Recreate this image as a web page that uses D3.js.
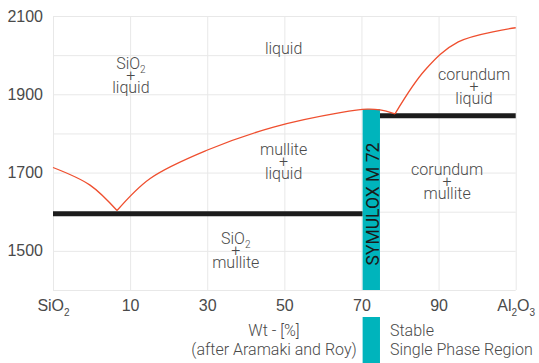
<!DOCTYPE html>
<html>
<head>
<meta charset="utf-8">
<script src="https://cdn.jsdelivr.net/npm/d3@7"></script>
<style>
  body { margin: 0; background: #fff; }
  svg { font-family: Roboto, "Noto Sans", sans-serif; font-weight: 300; }
</style>
</head>
<body>
<div id="chart"></div>
<script>
// composition axis: SiO2 at -10, Al2O3 at 110 (wt% Al2O3 in between)
const xTicks = [-10, 10, 30, 50, 70, 90, 110];
const xTickLabels = ['SiO_2', '10', '30', '50', '70', '90', 'Al_2O_3'];
const yGrid = [1400, 1500, 1600, 1700, 1800, 1900, 2000, 2100];
const yTickLabels = [1500, 1700, 1900, 2100];

// liquidus [wt%, °C]
const liquidusSiO2 = [[-10, 1713], [-0.4, 1668], [6.6, 1603]];
const liquidusMullite = [[6.6, 1603], [15.2, 1685], [29.9, 1757], [47.2, 1816],
  [64.5, 1853], [71.5, 1862], [74.8, 1860], [78.7, 1850]];
const liquidusCorundum = [[78.7, 1850], [86.5, 1962], [95.1, 2034], [110, 2070]];

// solidus lines (eutectic / peritectic)
const solidus = [
  { from: -10, to: 70.3, temp: 1595 },
  { from: 74.8, to: 110, temp: 1845 },
];

// SYMULOX M 72 band
const bandName = 'SYMULOX M 72';
const band = { from: 70.3, to: 74.8, top: 1862 };

// phase region labels, placed at [wt%, °C] of the first line
const regions = [
  { lines: ['liquid'], x: 49.8, temp: 2003 },
  { lines: ['SiO_2', '+', 'liquid'], x: 10.2, temp: 1965 },
  { lines: ['corundum', '+', 'liquid'], x: 99.2, temp: 1936 },
  { lines: ['mullite', '+', 'liquid'], x: 49.8, temp: 1745 },
  { lines: ['corundum', '+', 'mullite'], x: 92.2, temp: 1694 },
  { lines: ['SiO_2', '+', 'mullite'], x: 37.4, temp: 1517 },
];

const axisTitle = ['Wt - [%]', '(after Aramaki and Roy)'];
const legendLines = ['Stable', 'Single Phase Region'];

const width = 539;
const height = 363;
const margin = { top: 16, right: 23.3, bottom: 73, left: 53 };
const w = width - margin.left - margin.right;
const h = height - margin.top - margin.bottom;

const textColor = '#4a4a4a';
const gridColor = '#e8e8e8';
const red = '#ef4f2f';
const teal = '#00b4bc';

// write "SiO_2" style labels with subscripts
function richText(text, label, subDy) {
  text.text(null);
  label.split(/(_\d+)/).filter(s => s).forEach((part) => {
    if (part[0] === '_') {
      text.append('tspan').attr('font-size', '10px').attr('dy', subDy).text(part.slice(1));
      text.append('tspan').attr('font-size', '1px').attr('dy', -subDy).text('\u200b');
    } else {
      text.append('tspan').text(part);
    }
  });
}

const svg = d3.select('#chart').append('svg')
  .attr('width', width)
  .attr('height', height);

const g = svg.append('g').attr('transform', `translate(${margin.left},${margin.top})`);

const x = d3.scaleLinear().domain([-10, 110]).range([0, w]);
const y = d3.scaleLinear().domain([1400, 2100]).range([h, 0]);

// grid
g.append('g')
  .attr('transform', `translate(0,${h})`)
  .call(d3.axisBottom(x).tickValues(xTicks).tickSize(-h).tickFormat(''))
  .call(a => a.select('.domain').remove())
  .call(a => a.selectAll('line').attr('stroke', gridColor));

g.append('g')
  .call(d3.axisLeft(y).tickValues(yGrid).tickSize(-w).tickFormat(''))
  .call(a => a.select('.domain').remove())
  .call(a => a.selectAll('line').attr('stroke', gridColor));

// tick labels
g.append('g')
  .attr('transform', `translate(0,${h})`)
  .call(d3.axisBottom(x).tickValues(xTicks).tickSize(0).tickPadding(10))
  .call(a => a.select('.domain').remove())
  .call(a => a.selectAll('text')
    .attr('font-size', '16px')
    .attr('font-family', null)
    .attr('fill', textColor)
    .each(function (d, i) { richText(d3.select(this), xTickLabels[i], 5); }));

g.append('g')
  .call(d3.axisLeft(y).tickValues(yTickLabels).tickSize(0).tickPadding(10).tickFormat(d3.format('d')))
  .call(a => a.select('.domain').remove())
  .call(a => a.selectAll('text')
    .attr('font-size', '16px')
    .attr('font-family', null)
    .attr('fill', textColor));

// solidus lines
g.selectAll('.solidus')
  .data(solidus)
  .enter().append('line')
  .attr('class', 'solidus')
  .attr('x1', d => x(d.from))
  .attr('x2', d => x(d.to))
  .attr('y1', d => y(d.temp))
  .attr('y2', d => y(d.temp))
  .attr('stroke', '#1c1c1c')
  .attr('stroke-width', 5);

// product band
g.append('rect')
  .attr('x', x(band.from))
  .attr('width', x(band.to) - x(band.from))
  .attr('y', y(band.top))
  .attr('height', h - y(band.top))
  .attr('fill', teal);

const bandMid = (band.from + band.to) / 2;
g.append('text')
  .attr('transform', `translate(${x(bandMid) + 7.3},${(y(band.top) + h) / 2 + 4.5}) rotate(-90)`)
  .attr('text-anchor', 'middle')
  .attr('font-size', '17.5px')
  .attr('font-weight', 400)
  .attr('fill', '#1a1a1a')
  .text(bandName);

// liquidus
const line = d3.line()
  .x(d => x(d[0]))
  .y(d => y(d[1]))
  .curve(d3.curveCatmullRom.alpha(0.5));

[liquidusSiO2, liquidusMullite, liquidusCorundum].forEach((pts) => {
  g.append('path')
    .datum(pts)
    .attr('fill', 'none')
    .attr('stroke', red)
    .attr('stroke-width', 1.3)
    .attr('d', line);
});

// region labels
regions.forEach((r) => {
  r.lines.forEach((l, i) => {
    const t = g.append('text')
      .attr('x', x(r.x))
      .attr('y', y(r.temp) + i * 12)
      .attr('text-anchor', 'middle')
      .attr('font-size', '16px')
      .attr('fill', textColor);
    richText(t, l, 4);
  });
});

// axis title
axisTitle.forEach((l, i) => {
  g.append('text')
    .attr('x', 221)
    .attr('y', h + 46 + i * 18.5)
    .attr('text-anchor', 'middle')
    .attr('font-size', '16px')
    .attr('fill', textColor)
    .text(l);
});

// legend
g.append('rect')
  .attr('x', x(band.from))
  .attr('width', x(band.to) - x(band.from))
  .attr('y', h + 27)
  .attr('height', margin.bottom - 27)
  .attr('fill', teal);

legendLines.forEach((l, i) => {
  g.append('text')
    .attr('x', x(band.to) + 10)
    .attr('y', h + 46 + i * 18.5)
    .attr('font-size', '16px')
    .attr('fill', textColor)
    .text(l);
});
</script>
</body>
</html>
